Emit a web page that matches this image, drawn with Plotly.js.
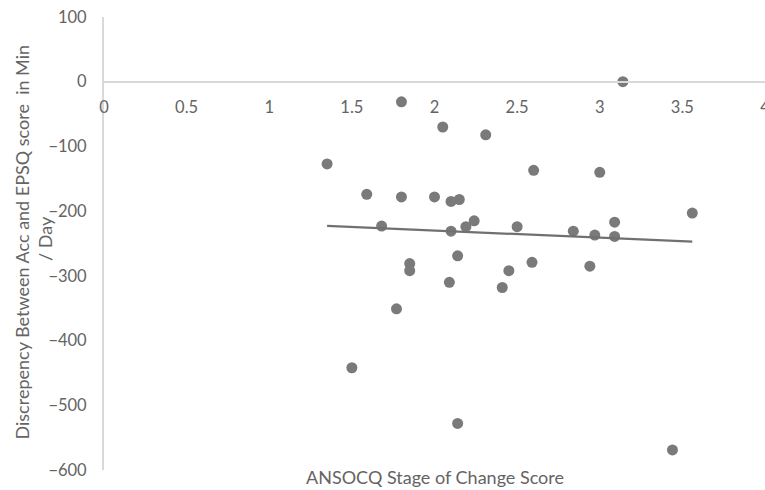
<!DOCTYPE html>
<html>
<head>
<meta charset="utf-8">
<script src="https://cdn.plot.ly/plotly-3.0.1.min.js"></script>
<style>html,body{margin:0;padding:0;background:#fff;}#chart{width:765px;height:490px;}</style>
</head>
<body>
<div id="chart"></div>
<script>
const stageScore = [1.35, 1.5, 1.59, 1.68, 1.77, 1.8, 1.8, 1.85, 1.85, 2.0,
  2.05, 2.09, 2.1, 2.1, 2.14, 2.14, 2.15, 2.19, 2.24, 2.31,
  2.41, 2.45, 2.5, 2.59, 2.6, 2.84, 2.94, 2.97, 3.0, 3.09,
  3.09, 3.14, 3.44, 3.56];
const discrepancy = [-127, -442, -174, -223, -351, -31, -178, -281, -292, -178,
  -70, -310, -185, -231, -269, -528, -182, -224, -215, -82,
  -318, -292, -224, -279, -137, -231, -285, -237, -140, -217,
  -239, 0, -569, -203];
const xTitle = "ANSOCQ Stage of Change Score";
const yTitleLines = ["Discrepency Between Acc and EPSQ score  in Min", "/ Day"];

// least-squares linear trendline
const n = stageScore.length;
const mx = stageScore.reduce((a,b)=>a+b,0)/n;
const my = discrepancy.reduce((a,b)=>a+b,0)/n;
let sxy = 0, sxx = 0;
for (let i = 0; i < n; i++) { sxy += (stageScore[i]-mx)*(discrepancy[i]-my); sxx += (stageScore[i]-mx)**2; }
const slope = sxy/sxx, intercept = my - slope*mx;
const xmin = Math.min(...stageScore), xmax = Math.max(...stageScore);
const trendX = [xmin, xmax];
const trendY = trendX.map(x => intercept + slope*x);

const tickFont = {family: "Lato, sans-serif", size: 16.5, color: "#646464"};
const titleFont = {family: "Lato, sans-serif", size: 18, color: "#646464"};

Plotly.newPlot("chart", [
  {x: stageScore, y: discrepancy, type: "scatter", mode: "markers",
   marker: {color: "#7a7a7a", size: 11}, hoverinfo: "skip"},
  {x: trendX, y: trendY, type: "scatter", mode: "lines",
   line: {color: "#707070", width: 2.2}, hoverinfo: "skip"}
], {
  width: 765, height: 490,
  margin: {l: 104, r: 0, t: 17, b: 20},
  showlegend: false,
  paper_bgcolor: "#fff", plot_bgcolor: "#fff",
  font: tickFont,
  xaxis: {range: [0, 4], dtick: 0.5, tick0: 0, showgrid: false, zeroline: false,
    showline: true, linecolor: "#d9d9d9", linewidth: 2, ticks: "",
    anchor: "free", position: 600/700, ticklabelstandoff: 10,
    ticklabeloverflow: "allow", tickfont: tickFont},
  yaxis: {range: [-600, 100], dtick: 100, showgrid: false, zeroline: false,
    showline: true, linecolor: "#d9d9d9", linewidth: 2, ticks: "",
    ticklabelstandoff: 12, tickfont: tickFont},
  annotations: [
    {text: xTitle, xref: "paper", yref: "paper", x: 0.5, y: 0,
     xanchor: "center", yanchor: "middle", yshift: -7, showarrow: false, font: titleFont},
    {text: yTitleLines[0], xref: "paper", yref: "paper", x: 0, y: (470-242.5)/453,
     xanchor: "center", yanchor: "middle", xshift: -83, textangle: -90,
     showarrow: false, font: titleFont},
    {text: yTitleLines[1], xref: "paper", yref: "paper", x: 0, y: (470-239)/453,
     xanchor: "center", yanchor: "middle", xshift: -59, textangle: -90,
     showarrow: false, font: titleFont}
  ]
}, {staticPlot: true});
</script>
</body>
</html>
